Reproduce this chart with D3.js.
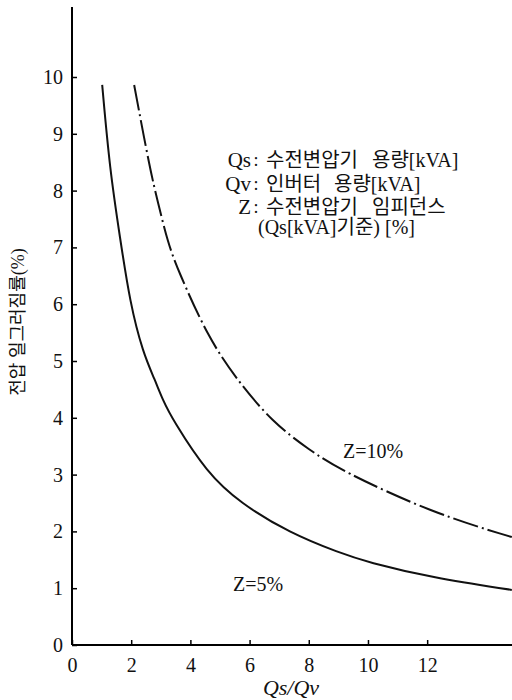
<!DOCTYPE html>
<html>
<head>
<meta charset="utf-8">
<script src="https://cdn.jsdelivr.net/npm/d3@7"></script>
<style>
  body { margin: 0; background: #fff; }
  text { font-family: "Liberation Serif", "Noto Sans CJK KR", serif; fill: #111; }
</style>
</head>
<body>
<svg id="chart" width="512" height="700"></svg>
<script>
// Qs/Qv ratio vs. voltage distortion (%)
let ratio5 = [1.02, 1.28, 1.62, 1.96, 2.40, 2.80, 3.07, 3.41, 4.56, 5.68, 7.36, 9.05, 9.97, 12.2, 14.86];
let dist5  = [9.86, 8.36, 7.18, 6.02, 5.14, 4.67, 4.31, 3.96, 3.03, 2.50, 1.97, 1.62, 1.46, 1.18, 0.97];
let ratio10 = [2.10, 2.64, 2.91, 3.24, 3.58, 4.59, 5.57, 6.79, 8.04, 9.05, 12.2, 14.86];
let dist10  = [9.86, 8.36, 7.78, 7.08, 6.60, 5.42, 4.67, 3.91, 3.43, 3.08, 2.32, 1.90];
let xTicks = [0, 2, 4, 6, 8, 10, 12];
let yTicks = [0, 1, 2, 3, 4, 5, 6, 7, 8, 9, 10];
let legendKeys = ["Qs", "Qv", "Z"];
let legendTexts = [
  ["수전변압기", "용량[kVA]"],
  ["인버터", "용량[kVA]"],
  ["수전변압기", "임피던스"]
];
let legendNote = "(Qs[kVA]기준) [%]";

function make_scales() {
  return {
    x: d3.scaleLinear().domain([0, 14.9]).range([72, 513]),
    y: d3.scaleLinear().domain([0, 10]).range([645, 77])
  }
}

function label(g, str, x, y, size) {
  return g.append("text")
    .attr("x", x).attr("y", y)
    .style("font-size", size + "px")
    .text(str);
}

function draw() {
  let scales = make_scales();
  let svg = d3.select("#chart");

  // axes
  let xAxis = svg.append("g")
    .attr("transform", "translate(0,645)")
    .call(d3.axisBottom(scales.x).tickValues(xTicks).tickSizeInner(-5).tickSizeOuter(0).tickPadding(13));
  xAxis.select(".domain").attr("stroke-width", 2).attr("d", "M72,0H513");
  xAxis.selectAll("line").attr("stroke-width", 1.5);
  xAxis.selectAll("text").style("font-size", "20px").attr("fill", "#111");

  let yAxis = svg.append("g")
    .attr("transform", "translate(72,0)")
    .call(d3.axisLeft(scales.y).tickValues(yTicks).tickSizeInner(-5).tickSizeOuter(0).tickPadding(9));
  yAxis.select(".domain").attr("stroke-width", 2).attr("d", "M0,645V7");
  yAxis.selectAll("line").attr("stroke-width", 1.5);
  yAxis.selectAll("text").style("font-size", "20px").attr("fill", "#111");

  // curves
  let line = d3.line()
    .x(d => scales.x(d[0]))
    .y(d => scales.y(d[1]))
    .curve(d3.curveBasis);

  svg.append("path")
    .datum(ratio5.map((r, i) => [r, dist5[i]]))
    .attr("d", line)
    .attr("fill", "none")
    .attr("stroke", "#111")
    .attr("stroke-width", 2);

  svg.append("path")
    .datum(ratio10.map((r, i) => [r, dist10[i]]))
    .attr("d", line)
    .attr("fill", "none")
    .attr("stroke", "#111")
    .attr("stroke-width", 2)
    .attr("stroke-dasharray", "26,4,2,4");

  // curve labels
  label(svg, "Z=10%", 343, 458, 20);
  label(svg, "Z=5%", 233, 591, 20);

  // legend: keys right-aligned on the colon
  let legend = svg.append("g");
  let part2X = [372, 334, 372];
  legendKeys.forEach((k, i) => {
    let y = 167 + i * 23.5;
    label(legend, k, 251, y, 21).attr("text-anchor", "end");
    label(legend, ":", 256, y - 1, 18).attr("text-anchor", "middle");
    label(legend, legendTexts[i][0], 266, y, 20);
    label(legend, legendTexts[i][1], part2X[i], y, 20);
  });
  label(legend, legendNote, 258, 234, 20);

  // axis titles
  svg.append("text").attr("x", 291).attr("y", 695).attr("text-anchor", "middle")
    .style("font-size", "22px").style("font-style", "italic").text("Qs/Qv");
  svg.append("text")
    .attr("transform", "translate(24,322) rotate(-90)")
    .attr("text-anchor", "middle")
    .style("font-size", "18px").text("전압 일그러짐률(%)");
}

draw();
</script>
</body>
</html>
